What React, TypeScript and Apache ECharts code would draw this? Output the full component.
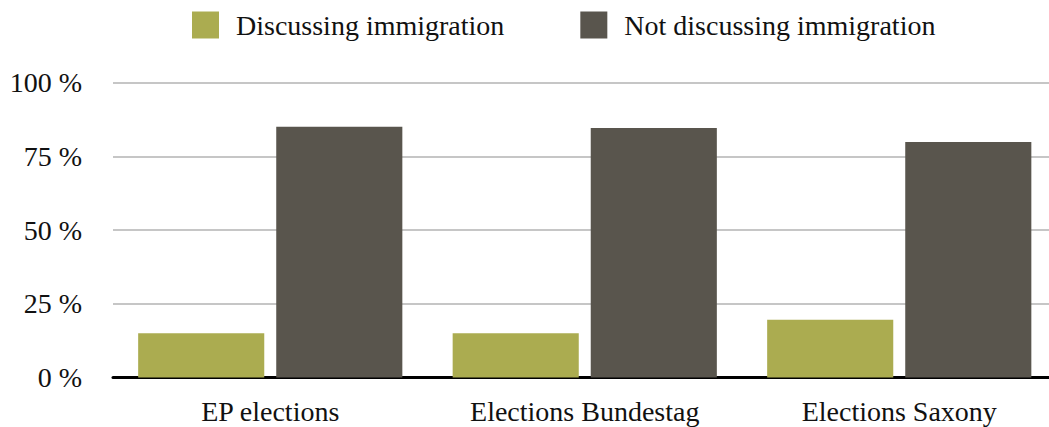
import React, { useEffect, useRef } from "react";
import * as echarts from "echarts";

const categories = ["EP elections", "Elections Bundestag", "Elections Saxony"];
const discussing = [15, 15, 19.6];
const notDiscussing = [85, 84.6, 79.8];
const yTicks = [0, 25, 50, 75, 100];

const FONT = "'Liberation Serif', 'DejaVu Serif', serif";

export default function App() {
  const ref = useRef<HTMLDivElement>(null);
  useEffect(() => {
    document.body.style.margin = "0";
    const chart = echarts.init(ref.current!, null, { renderer: "svg" });
    chart.setOption({
      animation: false,
      textStyle: { fontFamily: FONT },
      legend: {
        top: 6,
        left: 187,
        itemWidth: 27,
        itemHeight: 27,
        itemGap: 76,
        icon: "rect",
        textStyle: { fontFamily: FONT, fontSize: 28, color: "#111", padding: [0, 0, 0, 12] },
        data: ["Discussing immigration", "Not discussing immigration"],
      },
      grid: {
        left: 113,
        right: -7.5,
        top: 82.5,
        bottom: 49.5,
        outerBoundsMode: "none",
        containLabel: false,
      },
      xAxis: {
        type: "category",
        data: categories,
        axisLine: { show: true, lineStyle: { color: "#000", width: 3 } },
        axisTick: { show: false },
        axisLabel: { fontFamily: FONT, fontSize: 28, color: "#111", margin: 20 },
      },
      yAxis: {
        type: "value",
        min: yTicks[0],
        max: yTicks[yTicks.length - 1],
        interval: 25,
        axisLine: { show: false },
        axisTick: { show: false },
        splitLine: { lineStyle: { color: "#c6c6c6", width: 2 } },
        axisLabel: {
          fontFamily: FONT,
          fontSize: 28,
          color: "#111",
          margin: 31,
          formatter: (v: number) => `${v} %`,
        },
      },
      series: [
        {
          name: "Discussing immigration",
          type: "bar",
          data: discussing,
          itemStyle: { color: "#abac50" },
          barGap: "9.5%",
          barCategoryGap: "16%",
        },
        {
          name: "Not discussing immigration",
          type: "bar",
          data: notDiscussing,
          itemStyle: { color: "#59554d" },
          barGap: "9.5%",
          barCategoryGap: "16%",
        },
      ],
    });
    return () => chart.dispose();
  }, []);
  return (
    <div
      ref={ref}
      style={{ width: 1049, height: 427, position: "absolute", left: 0, top: 0 }}
    />
  );
}
